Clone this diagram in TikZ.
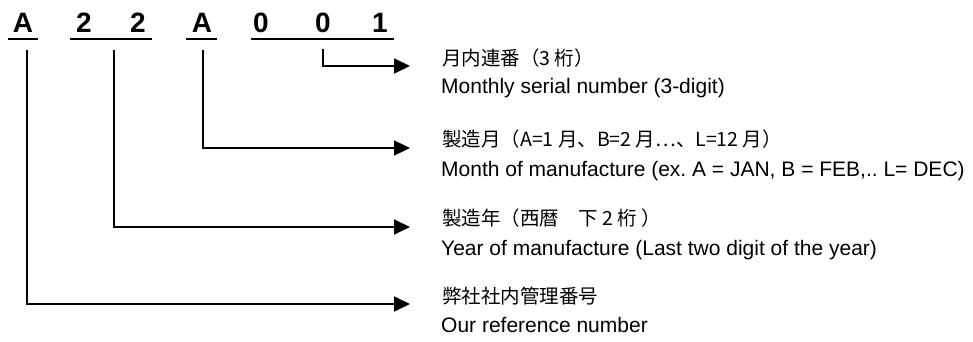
\documentclass[tikz,border=0pt]{standalone}
\usepackage{fontspec}
\setmainfont{Liberation Sans}
\newfontfamily\jpfont{Noto Sans CJK JP}
\usetikzlibrary{arrows.meta}
\frenchspacing
\tikzset{
  digit/.style={anchor=base,inner sep=0pt,font=\fontsize{28}{30}\selectfont\bfseries},
  uline/.style={line width=1.8pt},
  conn/.style={line width=1.8pt,line join=miter,-{Triangle[length=16pt,width=15pt]}},
  jplabel/.style={anchor=base west,inner sep=0pt,font=\jpfont\fontsize{19.5}{22}\selectfont},
  enlabel/.style={anchor=base west,inner sep=0pt,font=\fontsize{21}{24}\selectfont},
}
\begin{document}
\begin{tikzpicture}[x=1pt,y=-1pt]
\useasboundingbox (0,0) rectangle (973,342);
% code characters
\node[digit] (c1) at (23,33) {A};
\node[digit] (c2) at (84,33) {2};
\node[digit] (c3) at (138,33) {2};
\node[digit] (c4) at (202,33) {A};
\node[digit] (c5) at (261,33) {0};
\node[digit] (c6) at (323,33) {0};
\node[digit] (c7) at (380,33) {1};
% underlines
\coordinate (u1a) at (8,39);   \coordinate (u1b) at (38,39);
\coordinate (u2a) at (70,39);  \coordinate (u2b) at (152,39);
\coordinate (u3a) at (186,39); \coordinate (u3b) at (217,39);
\coordinate (u4a) at (251,39); \coordinate (u4b) at (394,39);
\draw[uline] (u1a) -- (u1b);
\draw[uline] (u2a) -- (u2b);
\draw[uline] (u3a) -- (u3b);
\draw[uline] (u4a) -- (u4b);
% connector start and end points
\coordinate (s1) at (27,50);
\coordinate (s2) at (114,50);
\coordinate (s3) at (203,50);
\coordinate (s4) at (323,49);
\coordinate (e1) at (410,66);
\coordinate (e2) at (410,148);
\coordinate (e3) at (410,227);
\coordinate (e4) at (410,304);
\draw[conn] (s4) |- (e1);
\draw[conn] (s3) |- (e2);
\draw[conn] (s2) |- (e3);
\draw[conn] (s1) |- (e4);
% labels
\node[jplabel] (j1) at (442,66) {月内連番（3 桁）};
\node[enlabel] (n1) at (441,94) {Monthly serial number (3-digit)};
\node[jplabel] (j2) at (442,146) {製造月（A=1 月、B=2 月⋯、L=12 月）};
\node[enlabel] (n2) at (441,176) {Month of manufacture (ex. A = JAN, B = FEB,.. L= DEC)};
\node[jplabel] (j3) at (442,225) {製造年（西暦　下 2 桁 ）};
\node[enlabel] (n3) at (441,255) {Year of manufacture (Last two digit of the year)};
\node[jplabel] (j4) at (442,303) {弊社社内管理番号};
\node[enlabel] (n4) at (441,332) {Our reference number};
\end{tikzpicture}
\end{document}
